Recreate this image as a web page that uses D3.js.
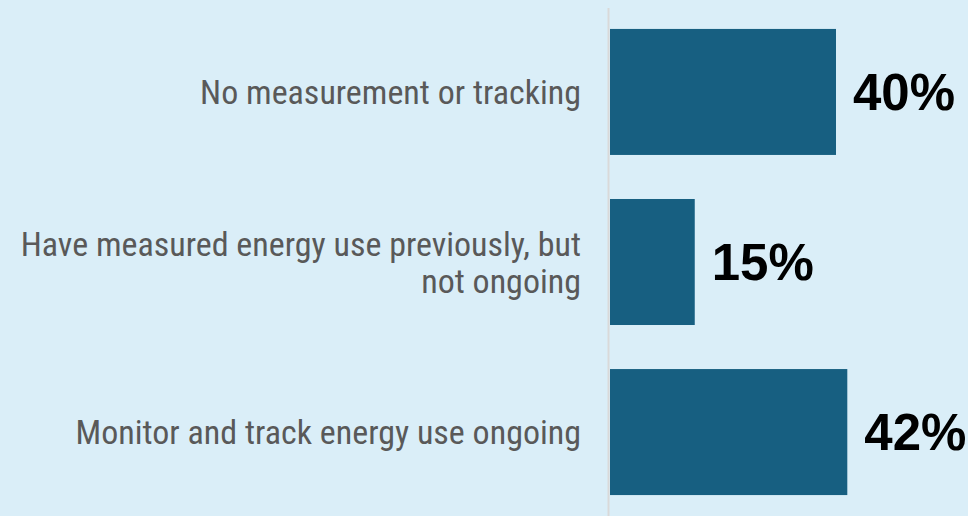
<!DOCTYPE html>
<html>
<head>
<meta charset="utf-8">
<script src="https://cdn.jsdelivr.net/npm/d3@7/dist/d3.min.js"></script>
<style>
  html, body { margin: 0; padding: 0; background: #daeef8; }
  svg { display: block; }
</style>
</head>
<body>
<script>
const categories = [
  ["No measurement or tracking"],
  ["Have measured energy use previously, but", "not ongoing"],
  ["Monitor and track energy use ongoing"]
];
const values = [40, 15, 42];
const valueLabels = ["40%", "15%", "42%"];

const W = 968, H = 516;
const svg = d3.select("body").append("svg").attr("width", W).attr("height", H);
svg.append("rect").attr("width", W).attr("height", H).attr("fill", "#daeef8");

const x0 = 610;
const x = d3.scaleLinear().domain([0, 100]).range([x0, x0 + 565]);
const y = d3.scaleBand().domain(d3.range(categories.length)).range([7, 517])
  .paddingInner(0.259).paddingOuter(0.129);

svg.selectAll("rect.bar").data(values).join("rect")
  .attr("class", "bar")
  .attr("x", x(0))
  .attr("y", (d, i) => y(i))
  .attr("width", d => x(d) - x(0))
  .attr("height", y.bandwidth())
  .attr("fill", "#175f81");

svg.append("line")
  .attr("x1", 608.5).attr("x2", 608.5).attr("y1", 8).attr("y2", H)
  .attr("stroke", "#d9d9d9").attr("stroke-width", 2);

const labelFont = "'Liberation Sans Narrow', 'Roboto Condensed', Roboto, sans-serif";
svg.selectAll("text.cat").data(categories).join("text")
  .attr("class", "cat")
  .attr("text-anchor", "end")
  .attr("font-family", labelFont)
  .attr("font-size", 34)
  .attr("fill", "#595959")
  .each(function(lines, i) {
    const t = d3.select(this);
    const cy = y(i) + y.bandwidth() / 2;
    const lh = 37;
    const start = cy - (lines.length - 1) * lh / 2 + 12;
    lines.forEach((ln, j) => {
      t.append("tspan").attr("x", 581).attr("y", start + j * lh).text(ln);
    });
  });

svg.selectAll("text.val").data(values).join("text")
  .attr("class", "val")
  .attr("x", d => x(d) + 17)
  .attr("y", (d, i) => y(i) + y.bandwidth() / 2 + 18)
  .attr("font-family", "'Liberation Sans', Arial, sans-serif")
  .attr("font-weight", "bold")
  .attr("font-size", 51)
  .attr("fill", "#000")
  .text((d, i) => valueLabels[i]);
</script>
</body>
</html>
